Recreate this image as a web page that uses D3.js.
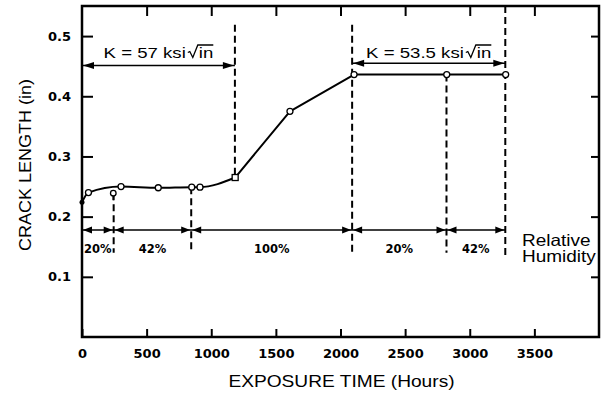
<!DOCTYPE html>
<html><head><meta charset="utf-8">
<script src="https://cdn.jsdelivr.net/npm/d3@7"></script>
<style>body{margin:0;background:#fff}svg{display:block}</style>
</head><body>
<svg id="c" width="601" height="393"></svg>
<script>
// ---- data ----
const hours = [0, 50, 302, 590, 849, 913, 1185, 1609, 2105, 2822, 3278];
const crack = [0.224, 0.240, 0.250, 0.248, 0.249, 0.249, 0.265, 0.375, 0.436, 0.436, 0.436];
const offHours = [242];
const offCrack = [0.239];
const xTicks = [0, 500, 1000, 1500, 2000, 2500, 3000, 3500];
const yTicks = [0.1, 0.2, 0.3, 0.4, 0.5];
const rhBounds = [0, 245, 845, 2090, 2820, 3275];
const rhLabels = ["20%", "42%", "100%", "20%", "42%"];
const rhLevel = 0.178;
const kStart = [0, 2090];
const kEnd = [1183, 3275];
const kLevel = [0.451, 0.455];
const kLabels = ["57", "53.5"];
const dashHours = [245, 845, 1183, 2090, 2820, 3275];
const dashTop = [0.239, 0.249, 0.519, 0.519, 0.436, 0.55];
const dashBottom = [0.14, 0.14, 0.265, 0.14, 0.14, 0.135];

// ---- chart ----
const svg = d3.select("#c");
const x = d3.scaleLinear([0, 4000], [82, 599]);
const y = d3.scaleLinear([0, 0.55], [337, 6]);
const SANS = "'Liberation Sans', Arial, sans-serif";
const BOLD = "'DejaVu Sans', sans-serif";

function stretch(sel, k) {
  sel.each(function () {
    const n = this.getComputedTextLength();
    d3.select(this).attr("textLength", n * k).attr("lengthAdjust", "spacingAndGlyphs");
  });
}

function styleAxis(g, labels) {
  g.select(".domain").remove();
  g.selectAll(".tick line").attr("stroke", "#000").attr("stroke-width", 2);
  if (!labels) g.selectAll(".tick text").remove();
  else g.selectAll(".tick text").attr("font-family", BOLD).attr("font-weight", "bold").attr("font-size", 13).attr("fill", "#000");
}

svg.append("g").attr("transform", `translate(0,${y(0)})`)
  .call(d3.axisBottom(x).tickValues(xTicks).tickSize(-8).tickPadding(12).tickFormat(d3.format("d")))
  .call(g => styleAxis(g, true));
svg.append("g").attr("transform", `translate(0,${y(0.55)})`)
  .call(d3.axisTop(x).tickValues(xTicks.slice(1)).tickSize(-10))
  .call(g => styleAxis(g, false));
svg.append("g").attr("transform", `translate(${x(0)},0)`)
  .call(d3.axisLeft(y).tickValues(yTicks).tickSize(-11).tickPadding(11).tickFormat(d3.format(".1f")))
  .call(g => styleAxis(g, true));
svg.append("g").attr("transform", `translate(${x(4000)},0)`)
  .call(d3.axisRight(y).tickValues(yTicks).tickSize(-8))
  .call(g => styleAxis(g, false));

svg.append("rect")
  .attr("x", x(0)).attr("y", y(0.55))
  .attr("width", x(4000) - x(0)).attr("height", y(0) - y(0.55))
  .attr("fill", "none").attr("stroke", "#000").attr("stroke-width", 2.5);

// dashed dividers
svg.append("g").selectAll("line").data(dashHours).join("line")
  .attr("x1", d => x(d)).attr("x2", d => x(d))
  .attr("y1", (d, i) => y(dashTop[i])).attr("y2", (d, i) => y(dashBottom[i]))
  .attr("stroke", "#000").attr("stroke-width", 2).attr("stroke-dasharray", "7,4");

// arrows
function arrowSeg(g, a, b, lv, len, hw) {
  const xa = x(a), xb = x(b), yy = y(lv);
  g.append("path").attr("d", `M${xa + 1},${yy}L${xa + len},${yy - hw}L${xa + len},${yy + hw}Z`).attr("fill", "#000");
  g.append("path").attr("d", `M${xb - 1},${yy}L${xb - len},${yy - hw}L${xb - len},${yy + hw}Z`).attr("fill", "#000");
}
const ag = svg.append("g");
ag.append("line").attr("x1", x(rhBounds[0])).attr("x2", x(rhBounds[rhBounds.length - 1]))
  .attr("y1", y(rhLevel)).attr("y2", y(rhLevel)).attr("stroke", "#000").attr("stroke-width", 1.5);
for (let i = 0; i < rhLabels.length; i++) {
  arrowSeg(ag, rhBounds[i], rhBounds[i + 1], rhLevel, 10, 3.5);
  ag.append("text").attr("x", (x(rhBounds[i]) + x(rhBounds[i + 1])) / 2).attr("y", 252.5)
    .attr("text-anchor", "middle").attr("font-family", BOLD).attr("font-weight", "bold")
    .attr("font-size", 11.5).text(rhLabels[i]);
}
for (let i = 0; i < kLabels.length; i++) {
  ag.append("line").attr("x1", x(kStart[i])).attr("x2", x(kEnd[i]))
    .attr("y1", y(kLevel[i])).attr("y2", y(kLevel[i])).attr("stroke", "#000").attr("stroke-width", 1.5);
  arrowSeg(ag, kStart[i], kEnd[i], kLevel[i], 12, 3.5);
  const cx = (x(kStart[i]) + x(kEnd[i])) / 2, base = 57.5;
  const kg = ag.append("g");
  const t1 = kg.append("text").attr("font-family", SANS).attr("font-size", 15.5).attr("y", base).text(`K = ${kLabels[i]} ksi`);
  stretch(t1, 1.2);
  const t2 = kg.append("text").attr("font-family", SANS).attr("font-size", 15.5).attr("y", base).text("in");
  stretch(t2, 1.2);
  const w1 = +t1.attr("textLength"), w2 = +t2.attr("textLength");
  const rw = 10, total = w1 + 2 + rw + 1 + w2;
  const x0 = cx - total / 2;
  t1.attr("x", x0);
  const rx = x0 + w1 + 2;
  t2.attr("x", rx + rw + 1);
  const top = base - 12.5;
  kg.append("path")
    .attr("d", `M${rx},${base - 5}L${rx + 2},${base - 6}L${rx + 5},${base}L${rx + rw},${top}L${x0 + total},${top}`)
    .attr("fill", "none").attr("stroke", "#000").attr("stroke-width", 1.3).attr("stroke-linejoin", "miter");
}

// curve: smooth early growth, straight segments after the 100% step begins
const pts = hours.map((h, i) => [h, crack[i]]);
const smooth = d3.line().x(d => x(d[0])).y(d => y(d[1])).curve(d3.curveMonotoneX);
const straight = d3.line().x(d => x(d[0])).y(d => y(d[1]));
svg.append("path")
  .attr("d", smooth(pts.slice(0, 7)) + straight(pts.slice(6)))
  .attr("fill", "none").attr("stroke", "#000").attr("stroke-width", 2).attr("stroke-linejoin", "round");

// markers
const mg = svg.append("g");
pts.forEach((d, i) => {
  if (i === 0) {
    mg.append("circle").attr("cx", x(d[0])).attr("cy", y(d[1])).attr("r", 2.5).attr("fill", "#000");
  } else if (i === 6) {
    mg.append("rect").attr("x", x(d[0]) - 3).attr("y", y(d[1]) - 3).attr("width", 6).attr("height", 6)
      .attr("fill", "#fff").attr("stroke", "#000").attr("stroke-width", 1.3);
  } else {
    mg.append("circle").attr("cx", x(d[0])).attr("cy", y(d[1])).attr("r", 3)
      .attr("fill", "#fff").attr("stroke", "#000").attr("stroke-width", 1.3);
  }
});
offHours.forEach((h, i) => {
  mg.append("line").attr("x1", x(h)).attr("x2", x(h)).attr("y1", y(offCrack[i])).attr("y2", y(offCrack[i]) + 7)
    .attr("stroke", "#000").attr("stroke-width", 1.5);
  mg.append("circle").attr("cx", x(h)).attr("cy", y(offCrack[i])).attr("r", 2.8)
    .attr("fill", "#fff").attr("stroke", "#000").attr("stroke-width", 1.3);
});

// texts
const rt = svg.append("g").attr("font-family", SANS).attr("font-size", 16.5);
stretch(rt.append("text").attr("x", 522).attr("y", 245.5).text("Relative"), 1.15);
stretch(rt.append("text").attr("x", 522).attr("y", 262).text("Humidity"), 1.15);

const xt = svg.append("text").attr("font-family", SANS).attr("font-size", 16.5)
  .attr("x", 341.5).attr("y", 387).attr("text-anchor", "middle").text("EXPOSURE TIME (Hours)");
stretch(xt, 1.16);
const yt = svg.append("text").attr("font-family", SANS).attr("font-size", 17)
  .attr("transform", "translate(31,165) rotate(-90)").attr("text-anchor", "middle").text("CRACK LENGTH (in)");
stretch(yt, 1.06);
</script>
</body></html>
